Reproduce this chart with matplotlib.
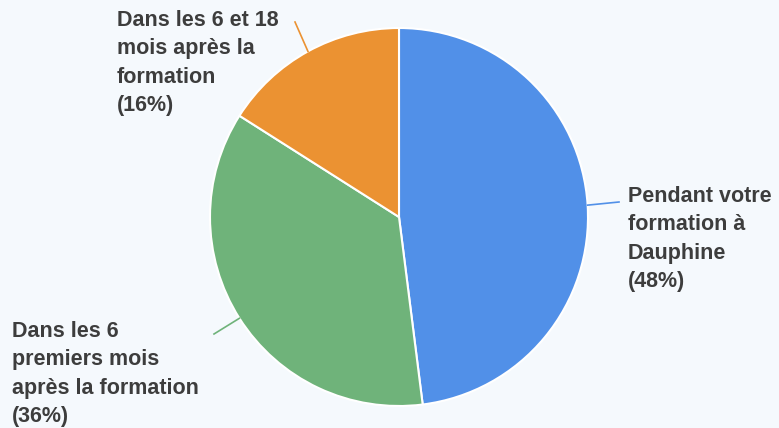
import matplotlib
matplotlib.use("Agg")
import matplotlib.pyplot as plt
import numpy as np

labels = ["Pendant votre\nformation à\nDauphine\n(48%)",
          "Dans les 6\npremiers mois\naprès la formation\n(36%)",
          "Dans les 6 et 18\nmois après la\nformation\n(16%)"]
values = [48, 36, 16]
colors = ["#5190e8", "#6fb37a", "#eb9232"]

W, H = 779, 428
bg = "#f5f9fd"
fig = plt.figure(figsize=(W / 100, H / 100), dpi=100, facecolor=bg)
ax = fig.add_axes([0, 0, 1, 1])
ax.set_facecolor(bg)

cx, cy, r = 399, H - 217, 189
wedges, _ = ax.pie(values, colors=colors, startangle=90, counterclock=False,
                   center=(cx, cy), radius=r, frame=True,
                   wedgeprops=dict(edgecolor="white", linewidth=1.5))
ax.set_xlim(0, W)
ax.set_ylim(0, H)
ax.set_aspect("auto")
ax.axis("off")

text_pos = [(628, H - 186), (12, H - 321), (117, H - 10)]
line_ends = [(619, H - 202), (214, H - 334), (295, H - 22)]
tcolor = "#3d3d3d"
for w, lab, (tx, ty), (lx, ly), col in zip(wedges, labels, text_pos, line_ends, colors):
    ang = np.deg2rad((w.theta1 + w.theta2) / 2)
    x0, y0 = cx + r * np.cos(ang), cy + r * np.sin(ang)
    ax.plot([x0, lx], [y0, ly], color=col, lw=1.2)
    ax.text(tx, ty, lab, ha="left", va="top", fontsize=15.5, fontweight="bold",
            family="Liberation Sans", color=tcolor, linespacing=1.46)

fig.savefig("out.png", dpi=100, facecolor=bg)
